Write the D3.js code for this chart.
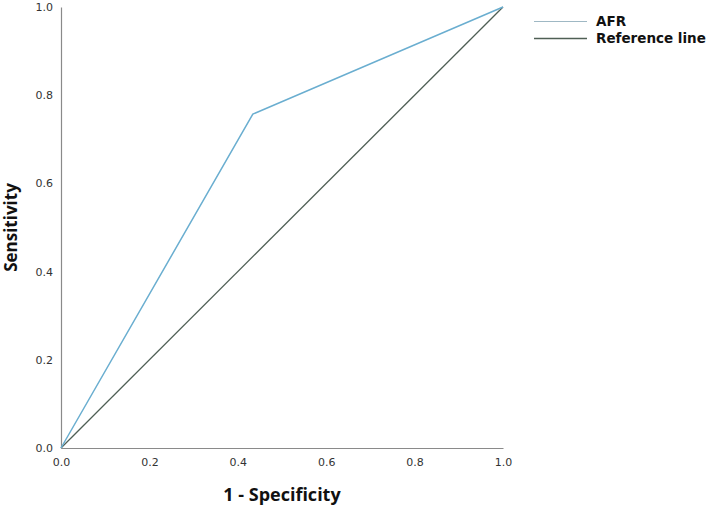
<!DOCTYPE html>
<html>
<head>
<meta charset="utf-8">
<script src="https://cdn.jsdelivr.net/npm/d3@7"></script>
<style>
  body { margin: 0; background: #fff; }
  .tick text { font-family: "DejaVu Sans", sans-serif; font-size: 11px; fill: #333; }
  .axis-title { font-family: "Open Sans", sans-serif; font-weight: bold; fill: #111; }
  .legend text { font-family: "DejaVu Sans", sans-serif; font-weight: bold; font-size: 13.5px; fill: #111; }
</style>
</head>
<body>
<div id="chart"></div>
<script>
// ROC curve points (1 - specificity, sensitivity)
const afrX = [0, 0.434, 1];
const afrY = [0, 0.757, 1];
// diagonal reference line
const refX = [0, 1];
const refY = [0, 1];
const tickValues = [0, 0.2, 0.4, 0.6, 0.8, 1.0];
const seriesNames = ["AFR", "Reference line"];
const seriesColors = ["#6aaed0", "#4f5f55"];

const margin = {top: 7, right: 206, bottom: 60, left: 61},
    width = 709 - margin.left - margin.right,
    height = 508 - margin.top - margin.bottom;

const x = d3.scaleLinear().domain([0, 1]).range([0, width]);
const y = d3.scaleLinear().domain([0, 1]).range([height, 0]);

const svg = d3.select("#chart").append("svg")
    .attr("width", 709)
    .attr("height", 508)
    .append("g")
    .attr("transform", "translate(" + margin.left + "," + margin.top + ")");

// axes, no tick marks
const xAxis = svg.append("g")
    .attr("transform", "translate(0," + height + ")")
    .call(d3.axisBottom(x).tickValues(tickValues).tickFormat(d3.format(".1f")).tickSize(0).tickPadding(10));
const yAxis = svg.append("g")
    .call(d3.axisLeft(y).tickValues(tickValues).tickFormat(d3.format(".1f")).tickSize(0).tickPadding(8));
[xAxis, yAxis].forEach(a => a.select(".domain").attr("stroke", "#8a8a8a").attr("stroke-width", 1.2));

const line = d3.line()
    .x(d => x(d[0]))
    .y(d => y(d[1]));

svg.append("path")
    .datum(refX.map((v, i) => [v, refY[i]]))
    .attr("fill", "none")
    .attr("stroke", seriesColors[1])
    .attr("stroke-width", 1.3)
    .attr("d", line);

svg.append("path")
    .datum(afrX.map((v, i) => [v, afrY[i]]))
    .attr("fill", "none")
    .attr("stroke", seriesColors[0])
    .attr("stroke-width", 1.5)
    .attr("d", line);

// axis titles
svg.append("text")
    .attr("class", "axis-title")
    .attr("x", width / 2)
    .attr("y", height + 53)
    .attr("text-anchor", "middle")
    .style("font-size", "18px")
    .text("1 - Specificity");

svg.append("text")
    .attr("class", "axis-title")
    .attr("transform", "translate(" + (-44) + "," + (height / 2) + ") rotate(-90)")
    .attr("text-anchor", "middle")
    .style("font-size", "17px")
    .text("Sensitivity");

// handmade legend
const legend = svg.append("g").attr("class", "legend")
    .attr("transform", "translate(" + (width + 31) + ",0)");
seriesNames.forEach((name, i) => {
    const ly = 14.5 + i * 17;
    legend.append("line")
        .attr("x1", 0).attr("x2", 53)
        .attr("y1", ly).attr("y2", ly)
        .attr("stroke", i === 0 ? "#9fb8c4" : seriesColors[1])
        .attr("stroke-width", i === 0 ? 1 : 1.5);
    legend.append("text")
        .attr("x", 62).attr("y", ly)
        .attr("dy", "0.35em")
        .text(name);
});
</script>
</body>
</html>
